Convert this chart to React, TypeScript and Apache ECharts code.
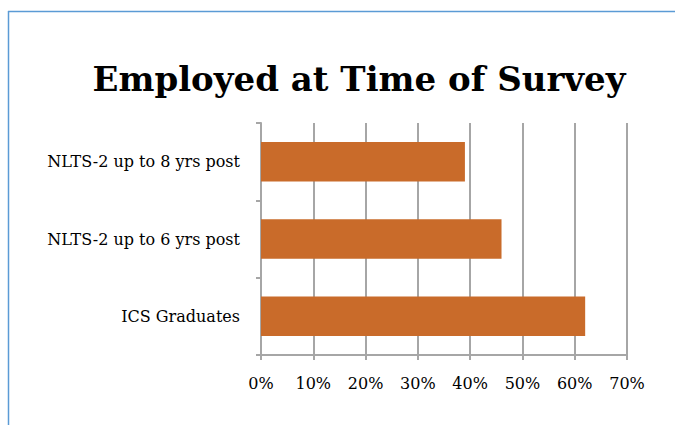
import React, { useEffect, useRef } from "react";
import * as echarts from "echarts";

const titleText = "Employed at Time of Survey";
const categories = ["ICS Graduates", "NLTS-2 up to 6 yrs post", "NLTS-2 up to 8 yrs post"];
const values = [62, 46, 39];
const xMin = 0;
const xMax = 70;
const xInterval = 10;

export default function App() {
  const ref = useRef<HTMLDivElement>(null);
  useEffect(() => {
    const chart = echarts.init(ref.current!, null, { renderer: "svg" });
    const serif = "'DejaVu Serif', 'Liberation Serif', serif";
    chart.setOption({
      animation: false,
      backgroundColor: "#ffffff",
      graphic: [
        { type: "line", shape: { x1: 8, y1: 11.5, x2: 675, y2: 11.5 }, style: { stroke: "#5b9bd5", lineWidth: 1.5 } },
        { type: "line", shape: { x1: 8.5, y1: 11, x2: 8.5, y2: 425 }, style: { stroke: "#5b9bd5", lineWidth: 1.5 } },
        {
          type: "text",
          x: 359,
          y: 79,
          style: {
            text: titleText,
            font: `bold 34px ${serif}`,
            fill: "#000",
            textAlign: "center",
            textVerticalAlign: "middle",
          },
        },
      ],
      grid: { left: 261, right: 48, top: 123, bottom: 70 },
      xAxis: {
        type: "value",
        min: xMin,
        max: xMax,
        interval: xInterval,
        axisLine: { show: true, lineStyle: { color: "#a6a6a6", width: 2 } },
        axisTick: { show: true, length: 5, lineStyle: { color: "#a6a6a6", width: 2 } },
        splitLine: { show: true, lineStyle: { color: "#a6a6a6", width: 2 } },
        axisLabel: { formatter: "{value}%", margin: 20, fontSize: 16, color: "#000", fontFamily: serif },
      },
      yAxis: {
        type: "category",
        data: categories,
        axisLine: { show: true, lineStyle: { color: "#a6a6a6", width: 2 } },
        axisTick: { show: true, length: 5, lineStyle: { color: "#a6a6a6", width: 2 } },
        axisLabel: { margin: 21, fontSize: 16, color: "#000", fontFamily: serif },
      },
      series: [
        {
          type: "bar",
          data: values,
          barWidth: "51%",
          itemStyle: { color: "#c96b2a" },
        },
      ],
    });
    return () => chart.dispose();
  }, []);
  return (
    <div
      ref={ref}
      style={{ position: "fixed", left: 0, top: 0, width: 675, height: 425 }}
    />
  );
}
